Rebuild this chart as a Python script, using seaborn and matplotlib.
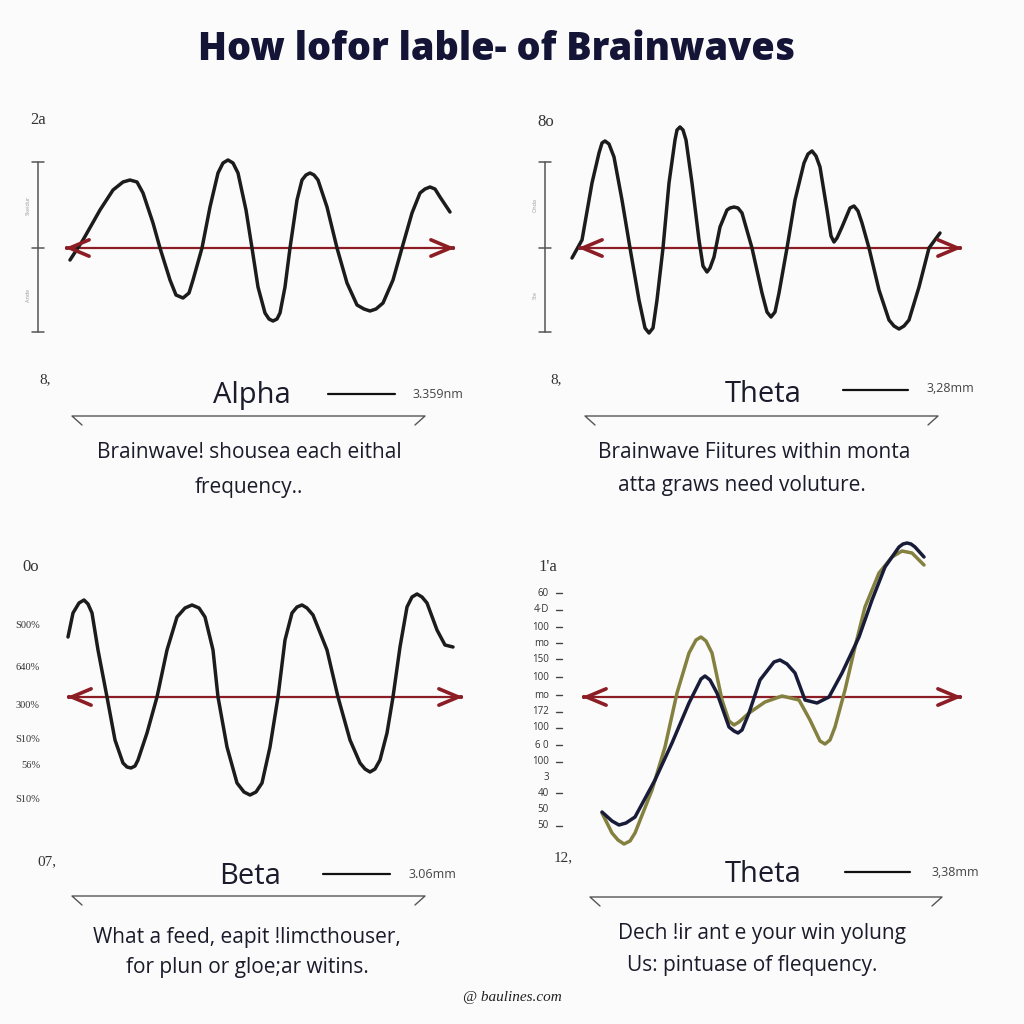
import matplotlib
matplotlib.use("Agg")
import matplotlib.pyplot as plt
import seaborn as sns

W = H = 1024

# ---------------- data (time in ms, amplitude in µV) ----------------
title = "How lofor lable- of Brainwaves"

alpha_t = [0, 13, 30, 43, 53, 60, 67, 73, 83, 90, 100, 106, 113, 119, 123, 132, 140, 148, 153, 158,
           163, 168, 176, 182, 188, 195, 199, 203, 207, 210, 215, 220, 227, 232, 236, 240, 244,
           248, 257, 267, 277, 287, 294, 300, 306, 313, 323, 332, 342, 350, 355, 360, 365, 370, 380]
alpha_a = [-12, 8, 38, 58, 66, 68, 66, 55, 25, 0, -32, -47, -50, -45, -32, 0, 41, 75, 85, 88,
           85, 75, 38, 0, -39, -65, -71, -73, -71, -65, -39, 0, 48, 68, 73, 75, 73,
           68, 41, 0, -35, -57, -61, -63, -61, -55, -32, 0, 35, 55, 59, 61, 59, 51, 36]

theta_t = [0, 10, 20, 27, 30, 33, 37, 42, 50, 58, 67, 73, 77, 81, 85, 91, 97, 103, 105, 108, 111,
           114, 120, 127, 131, 135, 138, 142, 148, 155, 158, 162, 166, 170, 180, 190, 195, 199,
           203, 207, 215, 223, 232, 236, 240, 244, 248, 255, 259, 262, 265, 270, 278, 282, 286,
           290, 297, 307, 317, 322, 327, 332, 337, 347, 357, 368]
theta_a = [-10, 8, 65, 95, 105, 107, 104, 91, 48, 0, -52, -80, -85, -80, -52, 0, 65, 108, 118, 121,
           118, 108, 65, 8, -18, -24, -20, -9, 21, 38, 40, 41, 40, 35, 0, -45, -64, -69,
           -64, -45, 0, 48, 85, 94, 97, 92, 81, 38, 12, 6, 10, 21, 40, 42, 37,
           25, 0, -42, -72, -78, -81, -78, -72, -39, 0, 15]

beta_t = [0, 5, 11, 16, 20, 24, 30, 39, 47, 55, 59, 63, 67, 70, 79, 89, 99, 109, 117, 124, 131,
          137, 145, 150, 159, 169, 176, 182, 188, 194, 202, 210, 217, 224, 229, 234, 239, 245,
          259, 270, 282, 292, 297, 302, 307, 312, 319, 325, 332, 339, 344, 349, 354, 359, 369,
          377, 385]
beta_a = [60, 84, 94, 97, 93, 84, 47, 0, -43, -66, -70, -71, -69, -63, -36, 0, 47, 80, 89, 92, 89,
          80, 47, 0, -50, -86, -95, -98, -95, -86, -50, 0, 57, 84, 90, 92, 89, 82,
          47, 0, -43, -66, -72, -75, -72, -63, -36, 0, 50, 90, 100, 103, 100, 94, 67,
          52, 50]

theta2_dark_t = [0, 10, 17, 24, 33, 53, 70, 87, 99, 103, 108, 115, 127, 132, 136, 140, 147, 158,
                 172, 178, 185, 193, 203, 215, 227, 240, 257, 270, 283, 297, 301, 305, 309, 313,
                 322]
theta2_dark_a = [-115, -124, -128, -126, -120, -83, -46, -6, 18, 21, 17, 4, -30, -34, -36, -33,
                 -16, 17, 35, 37, 33, 24, -3, -6, 0, 24, 60, 97, 130, 150, 153, 154, 153, 150,
                 140]
theta2_olive_t = [0, 10, 16, 22, 28, 33, 50, 63, 75, 87, 94, 99, 104, 110, 120, 127, 132, 137,
                  147, 163, 180, 197, 208, 218, 223, 228, 233, 243, 253, 263, 277, 290, 300, 310,
                  322]
theta2_olive_a = [-116, -136, -143, -147, -144, -136, -93, -50, 4, 44, 57, 60, 56, 44, -3, -24,
                  -28, -25, -16, -5, 1, -3, -23, -44, -47, -43, -30, 7, 50, 90, 124, 140, 146,
                  144, 132]

panel_names = ["Alpha", "Theta", "Beta", "Theta"]
panel_values = ["3.359nm", "3,28mm", "3.06mm", "3,38mm"]
panel_corner = ["2a", "8o", "0o", "1'a"]
panel_lower = ["8,", "8,", "07,", "12,"]
panel_desc = [
    ["Brainwave! shousea each eithal", "frequency.."],
    ["Brainwave Fiitures within monta", "atta graws need voluture."],
    ["What a feed, eapit !limcthouser,", "for plun or gloe;ar witins."],
    ["Dech !ir ant e your win yolung", "Us: pintuase of flequency."],
]
beta_ticklabels = ["S00%", "640%", "300%", "S10%", "56%", "S10%"]
theta2_ticklabels = ["60", "4·D", "100", "mo", "150", "100", "mo", "172", "100", "6 0", "100",
                     "3", "40", "50", "50"]
watermark = "@ baulines.com"

# ---------------- style ----------------
sns.set_theme(style="white")
plt.rcParams["font.family"] = ["Open Sans", "DejaVu Sans"]

BG = "#fbfbfb"
INK = "#1b1b2b"
WAVE = "#1c1c1c"
ARROW = "#8c1d25"
NAVY = "#181c38"
OLIVE = "#84803f"

fig = plt.figure(figsize=(10.24, 10.24), dpi=100, facecolor=BG)


def fx(x):
    return x / W


def fy(y):
    return 1 - y / H


def txt(x, y, s, **kw):
    kw.setdefault("ha", "center")
    kw.setdefault("va", "center")
    fig.text(fx(x), fy(y), s, **kw)


def fline(xs, ys, **kw):
    fig.add_artist(plt.Line2D([fx(v) for v in xs], [fy(v) for v in ys], **kw))


def wave_axes(x0, y0):
    ax = fig.add_axes([0, 0, 1, 1], facecolor="none")
    ax.set_xlim(-x0, W - x0)
    ax.set_ylim(y0 - H, y0)
    ax.axis("off")
    return ax


def arrow(ax, x0, xa, xb):
    ax.plot([xa - x0, xb - x0], [0, 0], color=ARROW, lw=1.6, solid_capstyle="butt")
    for tip, tail in ((xa, xa + 1), (xb, xb - 1)):
        ax.annotate("", xy=(tip - x0, 0), xytext=(tail - x0, 0),
                    arrowprops=dict(arrowstyle="->,head_length=1.0,head_width=0.42",
                                    color=ARROW, lw=2.6, shrinkA=0, shrinkB=0,
                                    mutation_scale=14, joinstyle="miter"))


LINE_KW = dict(linewidth=2.5, sort=False, estimator=None,
               solid_joinstyle="round", solid_capstyle="round")

# title
txt(497, 50, title, fontsize=27.3, fontweight="heavy", color="#141437")

# ---------------- panel 1: Alpha ----------------
ax1 = wave_axes(70, 248)
arrow(ax1, 70, 65, 455)
sns.lineplot(x=alpha_t, y=alpha_a, ax=ax1, color=WAVE, **LINE_KW)

# ---------------- panel 2: Theta ----------------
ax2 = wave_axes(572, 248)
arrow(ax2, 572, 578, 962)
sns.lineplot(x=theta_t, y=theta_a, ax=ax2, color=WAVE, **LINE_KW)

# ---------------- panel 3: Beta ----------------
ax3 = wave_axes(68, 697)
arrow(ax3, 68, 67, 463)
sns.lineplot(x=beta_t, y=beta_a, ax=ax3, color=WAVE, **LINE_KW)

# ---------------- panel 4: Theta (two traces) ----------------
ax4 = wave_axes(602, 697)
arrow(ax4, 602, 582, 962)
sns.lineplot(x=theta2_olive_t, y=theta2_olive_a, ax=ax4, color=OLIVE, **LINE_KW)
sns.lineplot(x=theta2_dark_t, y=theta2_dark_a, ax=ax4, color=NAVY, **LINE_KW)

# ---------------- vertical scale brackets (top panels) ----------------
for bx, small in [(38, ("Skeidur", "Ande")), (545, ("Onda", "Ste"))]:
    fline([bx, bx], [162, 332], color="#555555", lw=1.1)
    for yy in (162, 248, 332):
        fline([bx - 6, bx + 6], [yy, yy], color="#555555", lw=1.1)
    txt(bx - 10, 205, small[0], fontsize=4, color="#9a9a9a", rotation=90)
    txt(bx - 10, 295, small[1], fontsize=4, color="#9a9a9a", rotation=90)

# ---------------- tick-like labels ----------------
beta_y = [625, 668, 705, 740, 766, 800]
for yy, lab in zip(beta_y, beta_ticklabels):
    txt(40, yy, lab, fontsize=7.5, color="#333333", ha="right",
        family=["Liberation Serif", "DejaVu Serif"])

theta2_y = [593, 610, 627, 643, 659, 677, 695, 712, 728, 745, 762, 777, 793, 809, 826]
no_dash = {11, 13}
for i, (yy, lab) in enumerate(zip(theta2_y, theta2_ticklabels)):
    txt(549, yy, lab, fontsize=7, color="#333333", ha="right")
    if i not in no_dash:
        fline([556, 562], [yy, yy], color="#444444", lw=1.0)

# ---------------- labels below each panel ----------------
corner_pos = [(38, 120), (546, 122), (31, 567), (548, 567)]
lower_pos = [(45, 380), (556, 380), (47, 862), (563, 858)]
name_pos = [(252, 395), (763, 395), (250, 876), (763, 875)]
seg_pos = [(328, 395, 394), (843, 908, 390), (323, 390, 874), (845, 910, 872)]
val_pos = [(438, 395), (950, 389), (432, 874), (955, 872)]
brk_pos = [(72, 425, 416), (585, 938, 416), (72, 425, 896), (590, 942, 897)]
desc_pos = [((249, 453), (249, 487)), ((754, 453), (742, 486)),
            ((247, 937), (247, 967)), ((762, 933), (752, 966))]

for i in range(4):
    txt(*corner_pos[i], panel_corner[i], fontsize=12, color="#333333",
        family=["Liberation Serif", "DejaVu Serif"])
    txt(*lower_pos[i], panel_lower[i], fontsize=11, color="#333333",
        family=["Liberation Serif", "DejaVu Serif"])
    txt(*name_pos[i], panel_names[i], fontsize=21, color=INK)
    xa, xb, yy = seg_pos[i]
    fline([xa, xb], [yy, yy], color="#111111", lw=1.6)
    txt(*val_pos[i], panel_values[i], fontsize=9, color="#444444")
    xa, xb, yy = brk_pos[i]
    fline([xa + 10, xa, xb, xb - 10], [yy + 9, yy, yy, yy + 9], color="#555555", lw=1.0)
    for (px, py), line in zip(desc_pos[i], panel_desc[i]):
        txt(px, py, line, fontsize=15, color=INK)

txt(512, 997, watermark, fontsize=11, color="#222222", style="italic",
    family=["Liberation Serif", "DejaVu Serif"])

fig.savefig("out.png", dpi=100, facecolor=BG)
